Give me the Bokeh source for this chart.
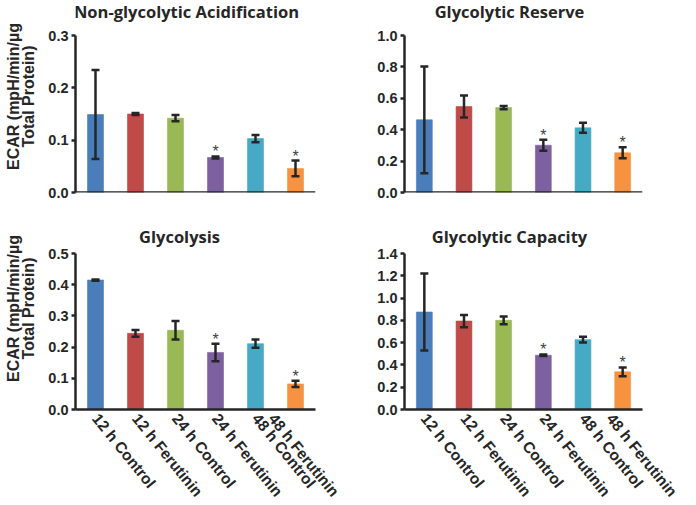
from bokeh.plotting import figure
from bokeh.layouts import column, row
from bokeh.models import (ColumnDataSource, Whisker, TeeHead, FixedTicker,
                          NumeralTickFormatter, FactorRange, Range1d, Span, Label)
from bokeh.core.properties import value
from bokeh.embed import file_html
from bokeh.resources import INLINE

categories = ["12 h Control", "12 h Ferutinin", "24 h Control",
              "24 h Ferutinin", "48 h Control", "48 h Ferutinin"]
colors = ["#4A7EBB", "#BE4B48", "#98B954", "#7D60A0", "#46AAC5", "#F69240"]
significant = [False, False, False, True, False, True]

nonglyc = [0.149, 0.150, 0.142, 0.067, 0.103, 0.046]
nonglyc_err = [0.085, 0.002, 0.006, 0.002, 0.007, 0.015]
nonglyc_ticks = [0.0, 0.1, 0.2, 0.3]

reserve = [0.463, 0.548, 0.541, 0.301, 0.412, 0.253]
reserve_err = [0.34, 0.07, 0.01, 0.035, 0.032, 0.035]
reserve_ticks = [0.0, 0.2, 0.4, 0.6, 0.8, 1.0]

glycolysis = [0.415, 0.244, 0.254, 0.183, 0.211, 0.082]
glycolysis_err = [0.002, 0.011, 0.030, 0.028, 0.013, 0.010]
glycolysis_ticks = [0.0, 0.1, 0.2, 0.3, 0.4, 0.5]

capacity = [0.875, 0.794, 0.800, 0.487, 0.627, 0.338]
capacity_err = [0.345, 0.055, 0.035, 0.007, 0.025, 0.040]
capacity_ticks = [0.0, 0.2, 0.4, 0.6, 0.8, 1.0, 1.2, 1.4]

Y_LABEL = "ECAR (mpH/min/\u00b5g\nTotal Protein)"
DARK = "#262626"
FONT = "Liberation Sans"


def panel(title, vals, errs, ticks, left, bottom, border_left, frame_w,
          border_right, axis_px, head_px, border_bottom, title_x, title_down):
    src = ColumnDataSource(dict(
        cat=categories, val=vals, color=colors,
        upper=[v + e for v, e in zip(vals, errs)],
        lower=[v - e for v, e in zip(vals, errs)],
    ))
    sig_idx = [i for i, s in enumerate(significant) if s]
    star_src = ColumnDataSource(dict(
        cat=[categories[i] for i in sig_idx],
        top=[vals[i] + errs[i] for i in sig_idx],
        star=["*" for _ in sig_idx],
    ))
    frame_h = axis_px + head_px
    y_top = ticks[-1] * frame_h / axis_px   # room above the axis for the title
    p = figure(x_range=FactorRange(*categories, range_padding=0),
               y_range=Range1d(ticks[0], y_top),
               frame_width=frame_w, frame_height=frame_h,
               min_border_left=border_left, min_border_right=border_right,
               min_border_top=0, min_border_bottom=border_bottom,
               output_backend="svg", toolbar_location=None)
    p.outline_line_color = None
    p.grid.visible = False
    p.background_fill_color = "white"
    p.border_fill_color = "white"

    p.add_layout(Label(text=title, x=title_x, y=frame_h - title_down,
                       x_units="screen", y_units="screen",
                       text_font="Open Sans", text_font_size="16.5px",
                       text_font_style="bold", text_color=DARK,
                       text_align="center", text_baseline="middle"))

    p.vbar(x="cat", top="val", width=0.4, bottom=0, source=src,
           fill_color="color", line_color="color", line_alpha=0.6)
    p.add_layout(Whisker(base="cat", upper="upper", lower="lower", source=src,
                         level="overlay",
                         line_color=DARK, line_width=2.5,
                         upper_head=TeeHead(size=8, line_color=DARK, line_width=2.5),
                         lower_head=TeeHead(size=8, line_color=DARK, line_width=2.5)))
    p.text(x="cat", y="top", text="star", source=star_src,
           text_font=value(FONT), text_font_size="16px", text_color="#404040",
           text_align="center", text_baseline="bottom", y_offset=4)

    ya = p.yaxis[0]
    ya.bounds = (ticks[0], ticks[-1])
    ya.ticker = FixedTicker(ticks=ticks)
    ya.formatter = NumeralTickFormatter(format="0.0")
    ya.axis_line_color = DARK
    ya.axis_line_width = 2.5
    ya.major_tick_line_color = DARK
    ya.major_tick_line_width = 2.5
    ya.major_tick_out = 4
    ya.major_tick_in = 0
    ya.minor_tick_line_color = None
    ya.major_label_standoff = 3
    ya.major_label_text_font = FONT
    ya.major_label_text_font_style = "bold"
    ya.major_label_text_font_size = "14.5px"
    ya.major_label_text_color = DARK
    if left:
        ya.axis_label = Y_LABEL
        ya.axis_label_text_font = FONT
        ya.axis_label_text_font_style = "bold"
        ya.axis_label_text_font_size = "16px"
        ya.axis_label_text_line_height = 0.9
        ya.axis_label_text_color = DARK
        ya.axis_label_standoff = 8

    xa = p.xaxis[0]
    if bottom:
        xa.axis_line_color = DARK
        xa.axis_line_width = 2.5
        xa.major_tick_line_color = None
        xa.major_tick_out = 0
        xa.major_tick_in = 0
        xa.minor_tick_line_color = None
        xa.major_label_orientation = -0.89
        xa.major_label_standoff = 6
        xa.major_label_text_font = FONT
        xa.major_label_text_font_style = "bold"
        xa.major_label_text_font_size = "15.5px"
        xa.major_label_text_color = DARK
    else:
        xa.visible = False
        p.add_layout(Span(location=0, dimension="width", line_color=DARK,
                          line_width=2.5, level="overlay"))
    return p


p1 = panel("Non-glycolytic Acidification", nonglyc, nonglyc_err, nonglyc_ticks,
           True, False, 75, 240, 27, 157, 35, 15, 111, 11)
p2 = panel("Glycolytic Reserve", reserve, reserve_err, reserve_ticks,
           False, False, 62, 238, 38, 157, 35, 15, 105, 11)
p3 = panel("Glycolysis", glycolysis, glycolysis_err, glycolysis_ticks,
           True, True, 75, 240, 27, 156, 46, 90, 104, 29)
p4 = panel("Glycolytic Capacity", capacity, capacity_err, capacity_ticks,
           False, True, 62, 238, 38, 156, 46, 90, 105, 29)

layout = column(row(p1, p2), row(p3, p4))

with open("out.html", "w") as f:
    f.write(file_html(layout, INLINE))
